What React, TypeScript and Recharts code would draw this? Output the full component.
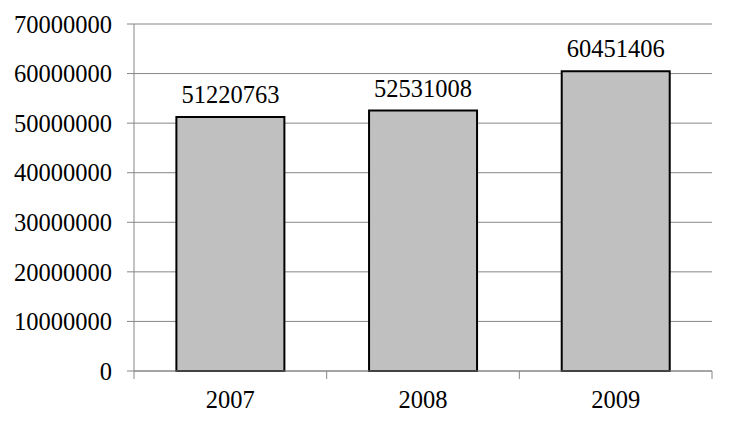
import React from "react";
import { BarChart, Bar, XAxis, YAxis, CartesianGrid, LabelList } from "recharts";

const years = ["2007", "2008", "2009"];
const values = [51220763, 52531008, 60451406];
const yTicks = [0, 10000000, 20000000, 30000000, 40000000, 50000000, 60000000, 70000000];

const data = years.map((y, i) => ({ year: y, value: values[i] }));

const FONT = "Liberation Serif, Times New Roman, Times, serif";
const GRAY = "#868686";
const BAND = (712 - 134) / 3;

const XTick = (props: any) => {
  const { x, y, payload, index } = props;
  const isLast = index === years.length - 1;
  return (
    <g>
      <line x1={x - BAND / 2} x2={x - BAND / 2} y1={y - 8} y2={y} stroke={GRAY} strokeWidth={1} />
      {isLast && <line x1={x + BAND / 2} x2={x + BAND / 2} y1={y - 8} y2={y} stroke={GRAY} strokeWidth={1} />}
      <text x={x} y={y + 29} textAnchor="middle" style={{ fontFamily: FONT, fontSize: 24.5 }} fill="#000">
        {payload.value}
      </text>
    </g>
  );
};

export default function App() {
  return (
    <div style={{ position: "absolute", left: 0, top: 0, background: "#fff", fontFamily: FONT }}>
      <BarChart
        width={736}
        height={427}
        data={data}
        margin={{ top: 24, right: 24, bottom: 0, left: 0 }}
        barCategoryGap="22%"
        style={{ fontFamily: FONT }}
      >
        <CartesianGrid horizontal vertical={false} stroke={GRAY} strokeDasharray="0" />
        <XAxis
          dataKey="year"
          height={56}
          axisLine={{ stroke: GRAY }}
          tickLine={false}
          tick={<XTick />}
          interval={0}
        />
        <YAxis
          width={134}
          domain={[0, 70000000]}
          ticks={yTicks}
          interval={0}
          axisLine={{ stroke: GRAY }}
          tickLine={{ stroke: GRAY }}
          tickSize={7}
          tickMargin={15}
          tick={{ fontSize: 24.5, fill: "#000", fontFamily: FONT }}
        />
        <Bar dataKey="value" fill="#C0C0C0" stroke="#000" strokeWidth={2} isAnimationActive={false}>
          <LabelList
            dataKey="value"
            position="top"
            offset={14}
            style={{ fontSize: 24.5, fill: "#000", fontFamily: FONT }}
          />
        </Bar>
      </BarChart>
    </div>
  );
}
